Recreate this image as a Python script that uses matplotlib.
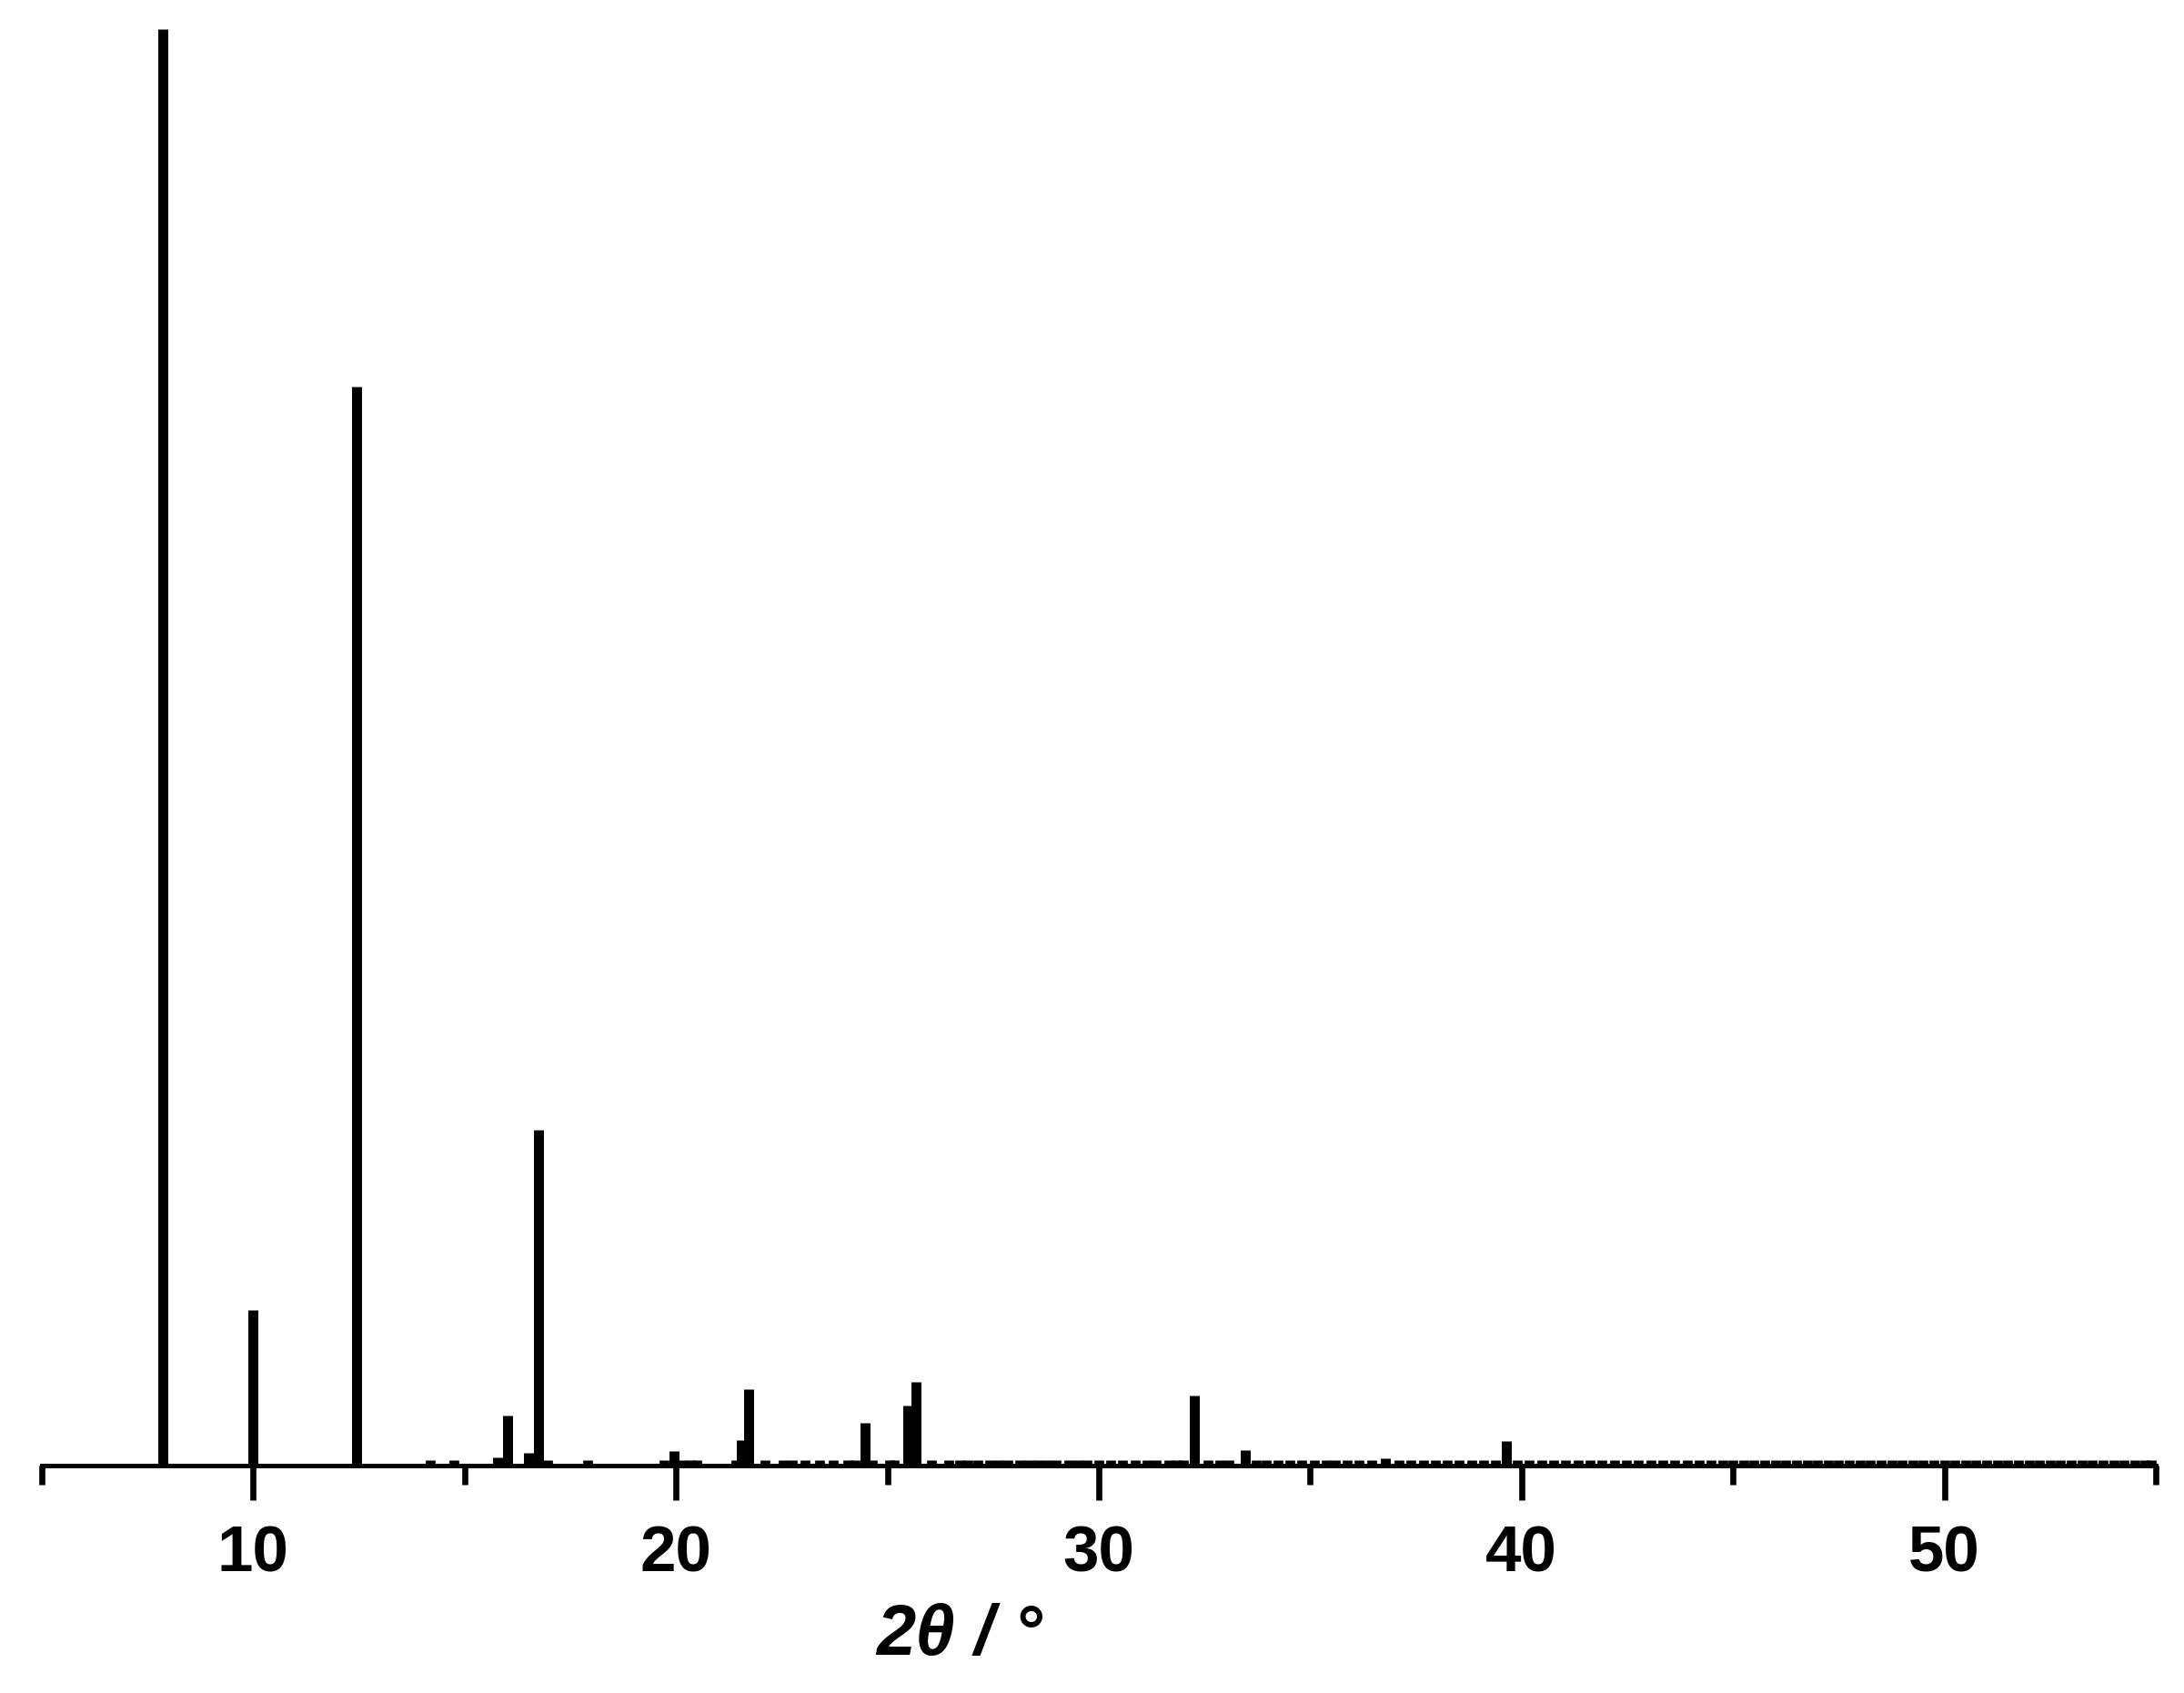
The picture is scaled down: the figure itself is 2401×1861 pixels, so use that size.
import matplotlib
matplotlib.use("Agg")
import matplotlib.pyplot as plt
from matplotlib.ticker import MultipleLocator

# Main reflections (2theta in degrees, relative intensity in %)
peak_pos = [7.87, 10.00, 12.44, 15.77, 16.02, 16.50, 16.74, 19.95, 21.54, 21.72,
            24.46, 25.49, 25.67, 32.26, 33.46, 36.77, 39.63]
peak_int = [100.0, 10.8, 75.1, 0.6, 3.5, 0.9, 23.4, 1.0, 1.8, 5.3,
            3.0, 4.2, 5.8, 4.9, 1.1, 0.5, 1.7]

# Weak reflections along the baseline
weak_pos = [14.19, 14.74, 16.97, 17.90, 19.72, 20.15, 20.35, 20.50, 21.42,
            22.10, 22.54, 22.76, 23.05, 23.39, 23.72, 24.07, 24.23, 24.64,
            25.05, 25.16, 26.05, 26.45, 26.70, 26.91, 27.13, 27.42, 27.64,
            27.85, 28.13, 28.35, 28.56, 28.78, 28.99, 29.28, 29.50, 29.71,
            30.00, 30.28, 30.57, 30.86, 31.15, 31.36, 31.65, 31.86, 32.00,
            32.58, 32.87, 33.08, 33.73, 33.95, 34.23, 34.51, 34.80, 35.09,
            35.37, 35.59, 35.88, 36.16, 36.45, 37.09, 37.38, 37.67, 37.95,
            38.24, 38.53, 38.82, 39.10, 39.39, 39.89, 40.18, 40.47, 40.75,
            41.04, 41.33, 41.61, 41.90, 42.19, 42.48, 42.76, 43.05, 43.34,
            43.62, 43.91, 44.20, 44.48, 44.75, 45.00, 45.25, 45.50, 45.75,
            46.00, 46.25, 46.50, 46.75, 47.00, 47.25, 47.50, 47.75, 48.00,
            48.25, 48.50, 48.75, 49.00, 49.25, 49.50, 49.75, 50.00, 50.25,
            50.50, 50.75, 51.00, 51.25, 51.50, 51.75, 52.00, 52.25, 52.50,
            52.75, 53.00, 53.25, 53.50, 53.75, 54.00, 54.25, 54.50, 54.75, 54.90]
weak_int = [0.35] * len(weak_pos)

x_ticks_major = [10, 20, 30, 40, 50]
x_label = "2θ / °"

W, H = 2401, 1861
fig = plt.figure(figsize=(W / 100, H / 100), dpi=100)
ax = fig.add_axes([46 / W, (H - 1611) / H, (2370 - 46) / W, (1611 - 32) / H])

ax.vlines(weak_pos, 0, weak_int, colors="black", linewidth=7.7, clip_on=False)
ax.vlines(peak_pos, 0, peak_int, colors="black", linewidth=7.9, clip_on=False)

ax.set_xlim(5, 55)
ax.set_ylim(0, 100)

for s in ["left", "right", "top"]:
    ax.spines[s].set_visible(False)
ax.spines["bottom"].set_linewidth(3.6)
ax.spines["bottom"].set_zorder(5)

ax.set_yticks([])
ax.set_xticks(x_ticks_major)
ax.xaxis.set_minor_locator(MultipleLocator(5))
ax.tick_params(axis="x", which="major", direction="out", length=27, width=4.8,
               pad=20, labelsize=51)
ax.tick_params(axis="x", which="minor", direction="out", length=15, width=4.8)
for lbl in ax.get_xticklabels():
    lbl.set_fontfamily("Liberation Sans")
    lbl.set_fontweight("bold")

fig.text(1055 / W, 1 - 1798 / H, x_label, ha="center", va="center",
         fontsize=56, fontweight="bold", fontstyle="italic",
         family=["Liberation Sans", "DejaVu Sans"])

fig.savefig("out.png", dpi=100, facecolor="white")
